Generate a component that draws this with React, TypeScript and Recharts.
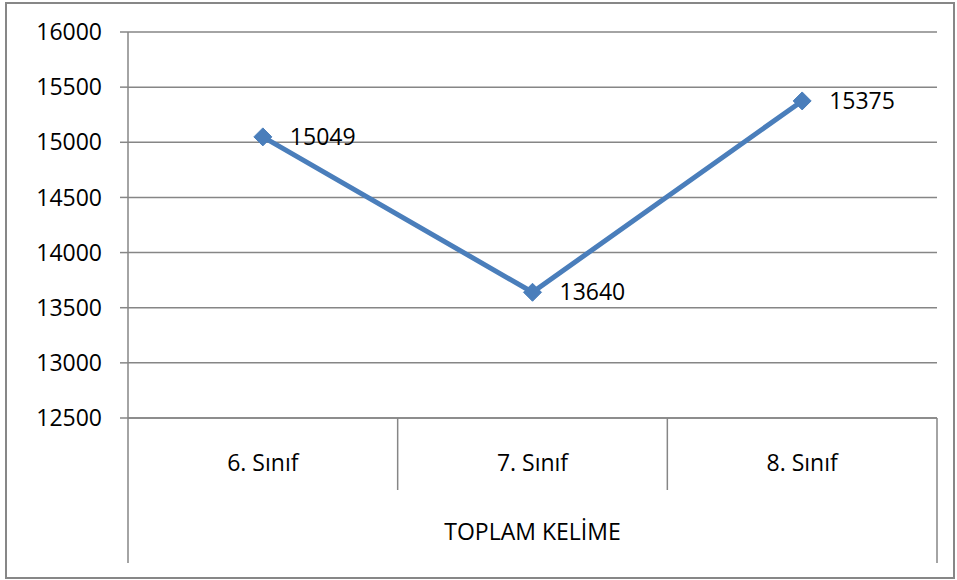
import { LineChart, Line, XAxis, YAxis, CartesianGrid, LabelList } from "recharts";

const categories = ["6. Sınıf", "7. Sınıf", "8. Sınıf"];
const totals = [15049, 13640, 15375];
const yTicks = [12500, 13000, 13500, 14000, 14500, 15000, 15500, 16000];
const groupLabel = "TOPLAM KELİME";

const data = categories.map((name, i) => ({ name, value: totals[i] }));

const FONT = "'Open Sans', sans-serif";
const FS = 23;
const GRID = "#868686";
const BLUE = "#4A7EBB";

function CategoryTick(props: any) {
  const { x, y, payload, index, visibleTicksCount, width } = props;
  const step = width / visibleTicksCount;
  const left = x - step / 2;
  const right = x + step / 2;
  const last = index === visibleTicksCount - 1;
  return (
    <g>
      <line x1={left} y1={y} x2={left} y2={y + (index === 0 ? 145 : 72)} stroke={GRID} strokeWidth={1.5} />
      {last && <line x1={right} y1={y} x2={right} y2={y + 145} stroke={GRID} strokeWidth={1.5} />}
      <text x={x} y={y + 44} textAnchor="middle" dominantBaseline="central" fontFamily={FONT} fontSize={FS} fill="#000">
        {payload.value}
      </text>
    </g>
  );
}

function Diamond(props: any) {
  const { cx, cy } = props;
  const r = 9;
  return (
    <polygon
      points={`${cx},${cy - r} ${cx + r},${cy} ${cx},${cy + r} ${cx - r},${cy}`}
      fill={BLUE}
      stroke={BLUE}
    />
  );
}

export default function App() {
  return (
    <div style={{ position: "absolute", left: 0, top: 0, width: 957, height: 580, background: "#fff" }}>
      <div
        style={{
          position: "absolute",
          left: 5,
          top: 2,
          width: 946,
          height: 573,
          border: "2px solid #878787",
        }}
      />
      <LineChart
        width={957}
        height={580}
        data={data}
        margin={{ top: 32, right: 20, bottom: 0, left: 0 }}
        style={{ position: "absolute", left: 0, top: 0 }}
      >
        <CartesianGrid vertical={false} stroke={GRID} strokeWidth={1.5} />
        <XAxis
          dataKey="name"
          scale="band"
          height={162}
          tickLine={false}
          tickSize={0}
          tickMargin={0}
          axisLine={{ stroke: GRID, strokeWidth: 1.5 }}
          tick={<CategoryTick />}
          interval={0}
          label={{
            value: groupLabel,
            position: "insideBottom",
            offset: 40,
            style: { fontFamily: FONT, fontSize: FS, fill: "#000" },
          }}
        />
        <YAxis
          width={128}
          domain={[12500, 16000]}
          ticks={yTicks}
          interval={0}
          tickSize={8}
          tickMargin={18}
          tickLine={{ stroke: GRID, strokeWidth: 1.5 }}
          axisLine={{ stroke: GRID, strokeWidth: 1.5 }}
          tick={{ fontFamily: FONT, fontSize: FS, fill: "#000" }}
        />
        <Line
          type="linear"
          dataKey="value"
          stroke={BLUE}
          strokeWidth={5}
          dot={<Diamond />}
          activeDot={false}
          isAnimationActive={false}
        >
          <LabelList
            dataKey="value"
            position="right"
            offset={27}
            style={{ fontFamily: FONT, fontSize: FS, fill: "#000" }}
          />
        </Line>
      </LineChart>
    </div>
  );
}
